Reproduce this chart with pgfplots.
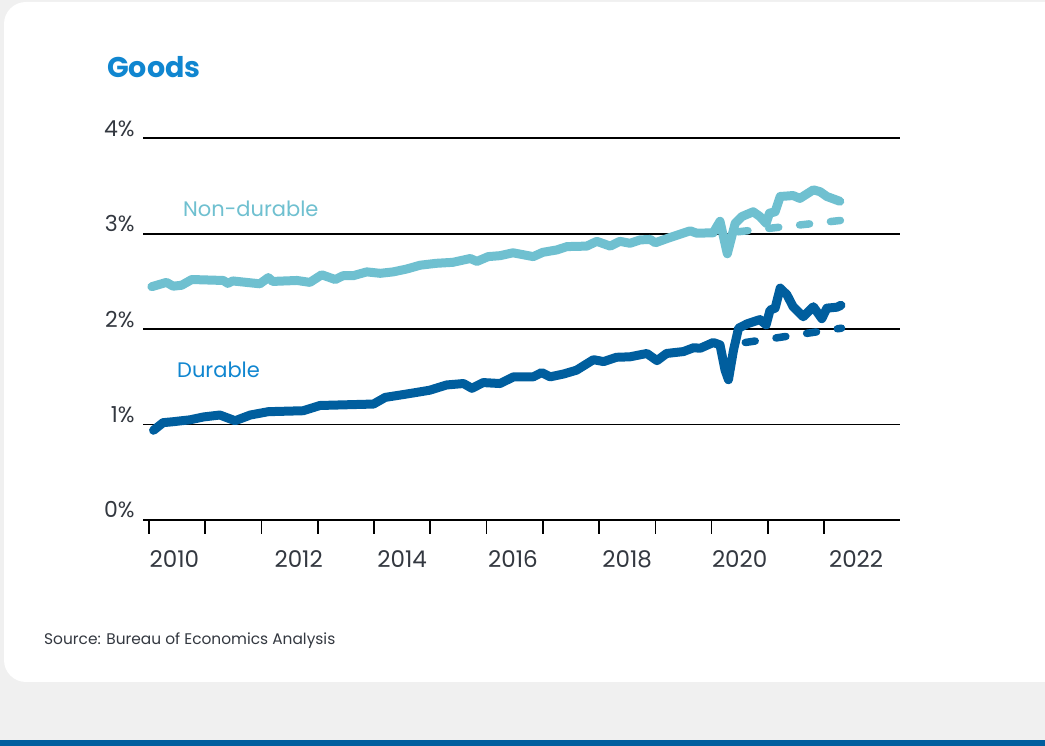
\documentclass[border=0pt]{standalone}
\usepackage{fontspec}
\setmainfont{Poppins}
\usepackage{pgfplots}
\pgfplotsset{compat=1.18}

\definecolor{nondur}{RGB}{111,192,208}
\definecolor{dur}{RGB}{0,94,158}
\definecolor{ttl}{RGB}{16,134,208}
\definecolor{txt}{RGB}{51,56,64}
\definecolor{bg}{RGB}{240,240,240}

\begin{document}
\begin{tikzpicture}[x=1bp,y=1bp]
\useasboundingbox (0,0) rectangle (1045,746);
\fill[bg] (0,0) rectangle (1045,746);
\fill[white, rounded corners=22bp] (4,64) rectangle (1075,744);
\fill[dur] (0,0) rectangle (1045,6);

\node[anchor=base west, inner sep=0pt, text=ttl, font=\fontsize{28.5bp}{33bp}\selectfont\bfseries] at (107,668) {Goods};
\node[anchor=base west, inner sep=0pt, text=txt, font=\fontsize{15.4bp}{18bp}\selectfont] at (44,101) {Source: Bureau of Economics Analysis};

\begin{axis}[
    at={(143bp,226bp)}, anchor=south west,
    scale only axis,
    width=757bp, height=381.7bp,
    xmin=2009.893, xmax=2023.35,
    ymin=0, ymax=4,
    axis line style={draw=none},
    ytick={0,1,2,3,4},
    yticklabels={0\%,1\%,2\%,3\%,4\%},
    ymajorgrids,
    grid style={black, line width=1.6bp},
    ytick style={draw=none},
    yticklabel style={anchor=base east, inner sep=0pt, xshift=-4bp, yshift=2bp, text=txt, font=\fontsize{22bp}{26bp}\selectfont},
    xtick={2010.45,2012.66,2014.5,2016.47,2018.5,2020.5,2022.57},
    xticklabels={2010,2012,2014,2016,2018,2020,2022},
    minor xtick={2010,2011,...,2022},
    xtick pos=bottom,
    tick align=outside,
    major x tick style={draw=none},
    minor x tick style={black, line width=1.6bp},
    minor tick length=14bp,
    xticklabel style={anchor=base, inner sep=0pt, yshift=-43bp, text=txt, font=\fontsize{23bp}{27bp}\selectfont},
    clip=false,
]
% Non-durable
\addplot[nondur, line width=9bp, line join=round, line cap=round] coordinates {
(2010.05,2.445) (2010.31,2.49) (2010.43,2.45) (2010.58,2.46) (2010.76,2.52)
(2011.32,2.51) (2011.40,2.48) (2011.49,2.505) (2011.97,2.475) (2012.12,2.54)
(2012.20,2.50) (2012.63,2.51) (2012.86,2.49) (2013.07,2.57) (2013.31,2.52)
(2013.45,2.56) (2013.63,2.56) (2013.87,2.60) (2014.11,2.585) (2014.34,2.60)
(2014.58,2.63) (2014.82,2.67) (2015.11,2.69) (2015.40,2.70) (2015.71,2.74)
(2015.83,2.71) (2016.03,2.76) (2016.24,2.77) (2016.47,2.80) (2016.83,2.76)
(2017.00,2.805) (2017.25,2.83) (2017.43,2.865) (2017.78,2.87) (2017.96,2.92)
(2018.20,2.87) (2018.37,2.92) (2018.55,2.90) (2018.73,2.935) (2018.91,2.94)
(2019.00,2.905) (2019.26,2.96) (2019.62,3.03) (2019.74,3.005) (2020.03,3.01)
(2020.15,3.13) (2020.28,2.79) (2020.42,3.11) (2020.54,3.18) (2020.74,3.23)
(2020.86,3.18) (2020.97,3.11) (2021.03,3.215) (2021.13,3.23) (2021.22,3.39)
(2021.45,3.40) (2021.57,3.37) (2021.81,3.46) (2021.93,3.44) (2022.05,3.39)
(2022.28,3.34)
};
\addplot[nondur, line width=7.5bp, line cap=round, dash pattern=on 10bp off 21bp] coordinates {
(2020.47,3.02) (2022.31,3.14)
};
% Durable
\addplot[dur, line width=9bp, line join=round, line cap=round] coordinates {
(2010.08,0.94) (2010.25,1.02) (2010.43,1.03) (2010.73,1.05) (2010.97,1.08)
(2011.26,1.10) (2011.53,1.04) (2011.80,1.10) (2012.12,1.135) (2012.74,1.145)
(2013.04,1.20) (2013.99,1.215) (2014.20,1.285) (2014.58,1.32) (2014.99,1.36)
(2015.29,1.415) (2015.59,1.43) (2015.74,1.38) (2015.94,1.44) (2016.24,1.43)
(2016.48,1.50) (2016.83,1.50) (2016.98,1.545) (2017.13,1.50) (2017.37,1.53)
(2017.60,1.57) (2017.90,1.68) (2018.08,1.66) (2018.31,1.705) (2018.55,1.71)
(2018.85,1.745) (2019.03,1.67) (2019.20,1.745) (2019.50,1.765) (2019.68,1.805)
(2019.80,1.80) (2020.03,1.86) (2020.15,1.835) (2020.24,1.57) (2020.30,1.47)
(2020.39,1.78) (2020.48,2.01) (2020.63,2.055) (2020.86,2.10) (2020.97,2.045)
(2021.04,2.20) (2021.13,2.22) (2021.22,2.43) (2021.34,2.36) (2021.45,2.235)
(2021.63,2.13) (2021.81,2.235) (2021.96,2.11) (2022.05,2.22) (2022.23,2.23)
(2022.30,2.25)
};
\addplot[dur, line width=7.5bp, line cap=round, dash pattern=on 10bp off 21bp] coordinates {
(2020.60,1.86) (2022.31,2.01)
};
\end{axis}

\node[anchor=base west, inner sep=0pt, text=nondur, font=\fontsize{21bp}{25bp}\selectfont] at (183,529) {Non-durable};
\node[anchor=base west, inner sep=0pt, text=ttl, font=\fontsize{21bp}{25bp}\selectfont] at (177,368) {Durable};
\end{tikzpicture}
\end{document}
